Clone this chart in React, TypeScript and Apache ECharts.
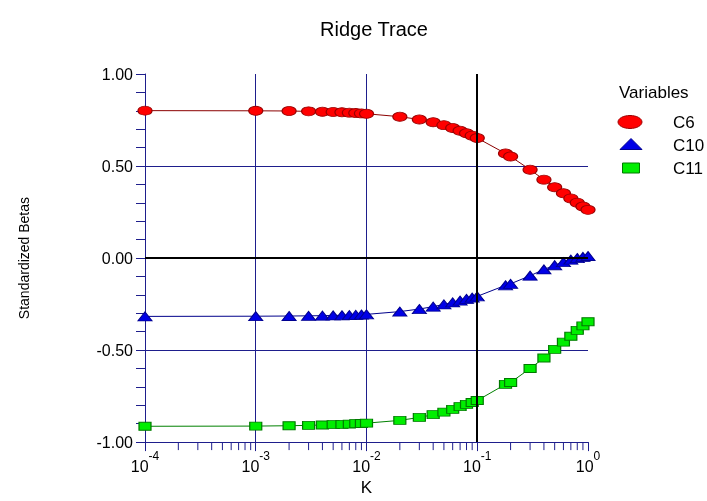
import React, { useEffect, useRef } from "react";
import * as echarts from "echarts";

const K = [0.0001, 0.001, 0.002, 0.003, 0.004, 0.005, 0.006, 0.007, 0.008, 0.009, 0.01, 0.02, 0.03, 0.04, 0.05, 0.06, 0.07, 0.08, 0.09, 0.1, 0.18, 0.2, 0.3, 0.4, 0.5, 0.6, 0.7, 0.8, 0.9, 1.0];
const C6 = [0.801, 0.8, 0.799, 0.797, 0.795, 0.794, 0.792, 0.79, 0.788, 0.786, 0.784, 0.768, 0.753, 0.738, 0.722, 0.707, 0.692, 0.678, 0.665, 0.652, 0.568, 0.552, 0.48, 0.426, 0.385, 0.352, 0.324, 0.301, 0.28, 0.262];
const C10 = [-0.317, -0.316, -0.315, -0.314, -0.313, -0.312, -0.311, -0.31, -0.309, -0.307, -0.306, -0.291, -0.277, -0.264, -0.252, -0.241, -0.231, -0.222, -0.215, -0.208, -0.148, -0.14, -0.096, -0.062, -0.039, -0.022, -0.009, 0.0, 0.006, 0.011];
const C11 = [-0.914, -0.913, -0.911, -0.909, -0.907, -0.905, -0.904, -0.902, -0.9, -0.899, -0.897, -0.882, -0.866, -0.851, -0.837, -0.822, -0.807, -0.795, -0.785, -0.774, -0.686, -0.676, -0.6, -0.543, -0.496, -0.457, -0.425, -0.393, -0.369, -0.346];

const SERIES_NAMES = ["C6", "C10", "C11"];
const LEGEND_TITLE = "Variables";
const DECADES = [0.0001, 0.001, 0.01, 0.1];
const MINOR_MULTIPLIERS = [2, 3, 4, 5, 6, 7, 8, 9];
const REF_LINES_X = [0.1];
const REF_LINES_Y = [0];

const FONT = "'Liberation Sans', Arial, sans-serif";
const NAVY = "#1e1e8c";

export default function App() {
  const ref = useRef<HTMLDivElement>(null);
  useEffect(() => {
    if (!ref.current) return;
    const chart = echarts.init(ref.current, null, { renderer: "svg" });
    const minorTicks: number[][] = [];
    DECADES.forEach((d) => MINOR_MULTIPLIERS.forEach((m) => minorTicks.push([d * m, -1])));
    const mk = (arr: number[]) => K.map((k, i) => [k, arr[i]]);

    const legendText = (text: string, x: number, y: number) => ({
      type: "text",
      style: {
        text, x, y,
        font: `17px ${FONT}`,
        fill: "#000",
        align: "left", verticalAlign: "middle",
        textAlign: "left", textVerticalAlign: "middle",
      },
    });

    chart.setOption({
      animation: false,
      textStyle: { fontFamily: FONT },
      title: {
        text: "Ridge Trace",
        left: 369,
        top: 14,
        textAlign: "center",
        textStyle: { fontFamily: FONT, fontSize: 20, fontWeight: "normal", color: "#000" },
      },
      graphic: [
        legendText(LEGEND_TITLE, 619, 92),
        {
          type: "ellipse",
          shape: { cx: 630, cy: 122, rx: 12, ry: 6.5 },
          style: { fill: "#ff0000", stroke: "#9a0000", lineWidth: 1 },
        },
        legendText(SERIES_NAMES[0], 673, 122),
        {
          type: "polygon",
          shape: { points: [[620, 149.5], [642, 149.5], [631, 138.5]] },
          style: { fill: "#0000e6", stroke: "#000090", lineWidth: 1 },
        },
        legendText(SERIES_NAMES[1], 673, 145),
        {
          type: "rect",
          shape: { x: 622.5, y: 163, width: 17, height: 10 },
          style: { fill: "#00ee00", stroke: "#007a00", lineWidth: 1 },
        },
        legendText(SERIES_NAMES[2], 673, 168),
      ],
      grid: { left: 145, right: 119, top: 74, bottom: 55, containLabel: false },
      xAxis: {
        type: "log",
        logBase: 10,
        min: 0.0001,
        max: 1,
        name: "K",
        nameLocation: "middle",
        nameGap: 32,
        nameTextStyle: { fontFamily: FONT, fontSize: 17, color: "#000" },
        axisLine: { onZero: false, lineStyle: { color: NAVY, width: 1 } },
        axisTick: { show: true, length: 9, lineStyle: { color: NAVY } },
        splitLine: { show: true, showMinLine: false, showMaxLine: false, lineStyle: { color: NAVY, width: 1 } },
        axisLabel: {
          margin: 8,
          formatter: (v: number) => `{b|10}{s|${Math.round(Math.log10(v))}}`,
          rich: {
            b: { fontFamily: FONT, fontSize: 16, color: "#000", lineHeight: 24, verticalAlign: "bottom" },
            s: { fontFamily: FONT, fontSize: 12, color: "#000", verticalAlign: "top" },
          },
        },
      },
      yAxis: {
        type: "value",
        min: -1,
        max: 1,
        interval: 0.5,
        name: "Standardized Betas",
        nameLocation: "middle",
        nameRotate: 90,
        nameGap: 114,
        nameTextStyle: { fontFamily: FONT, fontSize: 14, color: "#000" },
        axisLine: { show: true, onZero: false, lineStyle: { color: NAVY, width: 1 } },
        axisTick: { show: true, length: 9, lineStyle: { color: NAVY } },
        minorTick: { show: true, splitNumber: 5, length: 9, lineStyle: { color: NAVY } },
        splitLine: { show: true, showMinLine: false, showMaxLine: false, lineStyle: { color: NAVY, width: 1 } },
        axisLabel: {
          margin: 12,
          fontFamily: FONT,
          fontSize: 16,
          color: "#000",
          formatter: (v: number) => v.toFixed(2),
        },
      },
      series: [
        {
          name: "ref",
          type: "line",
          data: [],
          z: 1,
          silent: true,
          markLine: {
            silent: true,
            symbol: ["none", "none"],
            label: { show: false },
            lineStyle: { color: "#000", width: 2, type: "solid" },
            data: [...REF_LINES_X.map((x) => ({ xAxis: x })), ...REF_LINES_Y.map((y) => ({ yAxis: y }))],
          },
        },
        {
          name: "minor",
          type: "custom",
          silent: true,
          data: minorTicks,
          encode: { x: 0, y: 1 },
          renderItem: (params: any, api: any) => {
            const p = api.coord([api.value(0), api.value(1)]);
            return {
              type: "line",
              shape: { x1: p[0], y1: p[1], x2: p[0], y2: p[1] + 8 },
              style: { stroke: NAVY, lineWidth: 1 },
            };
          },
        },
        {
          name: SERIES_NAMES[0],
          type: "line",
          data: mk(C6),
          symbol: "circle",
          symbolSize: [14, 9],
          z: 3,
          lineStyle: { color: "#8b0000", width: 1 },
          itemStyle: { color: "#ff0000", borderColor: "#9a0000", borderWidth: 1 },
        },
        {
          name: SERIES_NAMES[1],
          type: "line",
          data: mk(C10),
          symbol: "triangle",
          symbolSize: [14, 9],
          z: 3,
          lineStyle: { color: "#00008b", width: 1 },
          itemStyle: { color: "#0000e6", borderColor: "#000090", borderWidth: 1 },
        },
        {
          name: SERIES_NAMES[2],
          type: "line",
          data: mk(C11),
          symbol: "rect",
          symbolSize: [12, 8],
          z: 3,
          lineStyle: { color: "#008000", width: 1 },
          itemStyle: { color: "#00ee00", borderColor: "#007a00", borderWidth: 1 },
        },
      ],
    });
    return () => chart.dispose();
  }, []);
  return <div ref={ref} style={{ position: "fixed", left: 0, top: 0, width: 707, height: 501 }} />;
}
